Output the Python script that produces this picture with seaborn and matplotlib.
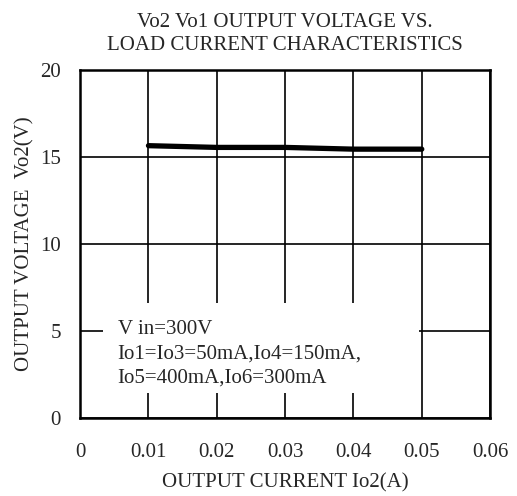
import numpy as np
import pandas as pd
import matplotlib
matplotlib.use("Agg")
import matplotlib.pyplot as plt
import seaborn as sns
from matplotlib.patches import Rectangle

# 데이터
current = [0.01, 0.02, 0.03, 0.04, 0.05]
voltage = [15.65, 15.55, 15.55, 15.45, 15.45]
x_ticks = [0, 0.01, 0.02, 0.03, 0.04, 0.05, 0.06]
x_labels = ["0", "0.01", "0.02", "0.03", "0.04", "0.05", "0.06"]
y_ticks = [0, 5, 10, 15, 20]

sns.set_style("white")
plt.rcParams['font.family'] = ['Liberation Serif', 'DejaVu Serif']

df = pd.DataFrame({"Io2": current, "Vo2": voltage})

fig = plt.figure(figsize=(5.17, 4.96), dpi=100)
ax = fig.add_axes([0.155, 0.157, 0.793, 0.702])

ax.set_xlim(0, 0.06)
ax.set_ylim(0, 20)
ax.set_xticks(x_ticks)
ax.set_xticklabels(x_labels)
ax.set_yticks(y_ticks)
ax.grid(True, color='black', linewidth=1.2)
ax.set_axisbelow(True)
ax.tick_params(axis='x', length=0, labelsize=15, pad=18)
ax.tick_params(axis='y', length=0, labelsize=15, pad=14)
for s in ax.spines.values():
    s.set_color('black')
    s.set_linewidth(1.8)

sns.lineplot(data=df, x="Io2", y="Vo2", ax=ax, color='black', linewidth=3.8, zorder=3)

# 조건 박스
ax.add_patch(Rectangle((0.0034, 1.45), 0.0462, 5.15, facecolor='white',
                       edgecolor='none', zorder=2))
ax.text(0.0055, 5.65, "V in=300V\nIo1=Io3=50mA,Io4=150mA,\nIo5=400mA,Io6=300mA",
        fontsize=15, va='top', ha='left', linespacing=1.4, zorder=4)

ax.set_xlabel("OUTPUT CURRENT Io2(A)", fontsize=15, labelpad=8)
ax.set_ylabel("OUTPUT VOLTAGE  Vo2(V)", fontsize=15, labelpad=4)
ax.set_title("Vo2 Vo1 OUTPUT VOLTAGE VS.\nLOAD CURRENT CHARACTERISTICS",
             fontsize=15, pad=14, linespacing=1.3)

fig.savefig("out.png", dpi=100)
